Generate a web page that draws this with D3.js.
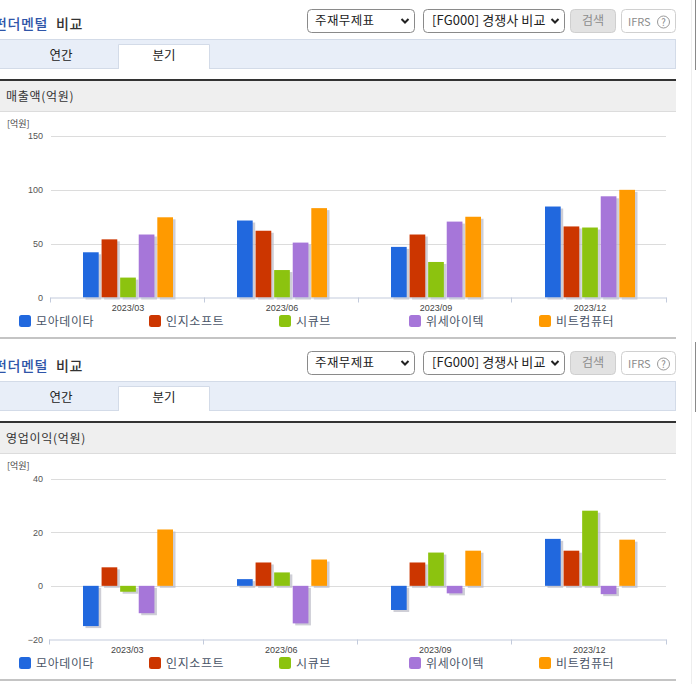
<!DOCTYPE html>
<html><head><meta charset="utf-8">
<style>html,body{margin:0;padding:0;background:#fff;overflow:hidden}svg{display:block}text{font-family:"Noto Sans CJK KR","Noto Sans",sans-serif}</style>
<script src="https://cdn.jsdelivr.net/npm/d3@7"></script></head><body>
<svg id="c" width="696" height="684"></svg>
<script>
const categories=["2023/03","2023/06","2023/09","2023/12"];
const seriesNames=["모아데이타","인지소프트","시큐브","위세아이텍","비트컴퓨터"];
const seriesColors=["#2168de","#cc3600","#8cc30f","#a676d9","#ff9a00"];
const revenue=[[42,71.5,47,84.5],[54,62,58.5,66],[18.5,25.5,33,65],[58.5,51,70.5,94],[74.5,83,75,100]];
const profit=[[-15,2.5,-9,17.5],[6.9,8.7,8.7,13.1],[-2.2,5,12.4,28],[-10.2,-14,-2.8,-3.1],[21,9.8,13.1,17.2]];
const revenueTicks=[0,50,100,150], profitTicks=[-20,0,20,40];
const svg=d3.select("#c");
function label(g,x,y,t,size,fill,anchor,sp){return g.append("text").attr("x",x).attr("y",y).attr("font-size",size).attr("fill",fill).attr("text-anchor",anchor||"start").attr("letter-spacing",sp||0).text(t);}
function box(g,x,y,w,h,r,fill,stroke){return g.append("rect").attr("x",x+.5).attr("y",y+.5).attr("width",w-1).attr("height",h-1).attr("rx",r).attr("fill",fill).attr("stroke",stroke);}
function chev(g,x,y){g.append("path").attr("d",`M${x-3.5} ${y-2}L${x} ${y+1.5}L${x+3.5} ${y-2}`).attr("fill","none").attr("stroke","#222").attr("stroke-width",2);}
function panel(offset,title,data,ticks,domain,top,bottom,tickX){
  const g=svg.append("g").attr("transform",`translate(0,${offset})`);
  const t=label(g,-6,29,"",14,"#333","start",.6);
  t.append("tspan").attr("fill","#2f55a8").attr("font-weight",500).text("펀더멘털");
  t.append("tspan").attr("x",56).attr("font-weight",500).text("비교");
  box(g,307,9,108,24,4,"#fff","#8a8a8a");label(g,315,25,"주재무제표",12.5,"#222","start",.4);chev(g,405,21);
  box(g,423,9,142,24,4,"#fff","#8a8a8a");label(g,432,25,"[FG000] 경쟁사 비교",13,"#222","start",.1);chev(g,555,21);
  box(g,570,9,46,24,4,"#e2e2e2","#cfcfcf");label(g,593,25,"검색",12,"#8c8c8c","middle");
  box(g,621,9,55,24,4,"#fff","#d0d0d0");label(g,628,25.5,"IFRS",11,"#8c8c8c");
  g.append("circle").attr("cx",663.5).attr("cy",22).attr("r",6).attr("fill","none").attr("stroke","#999");
  label(g,663.5,25.5,"?",9.5,"#888","middle");
  g.append("rect").attr("x",-1).attr("y",39.5).attr("width",676.5).attr("height",29).attr("fill","#e8eef8").attr("stroke","#d3dbe8");
  g.append("path").attr("d","M118.5 69V44.5H209.5V69").attr("fill","#fff").attr("stroke","#d3dbe8");
  label(g,61,60,"연간",12.5,"#222","middle");label(g,164,60,"분기",12.5,"#222","middle");
  g.append("rect").attr("y",79).attr("width",676).attr("height",2).attr("fill","#333");
  g.append("rect").attr("y",81).attr("width",676).attr("height",30).attr("fill","#efefef");
  g.append("rect").attr("y",111).attr("width",676).attr("height",1).attr("fill","#dcdcdc");
  label(g,6,101,title,12,"#333","start",.7);
  label(g,7,127,"[억원]",9,"#444");
  const y=d3.scaleLinear().domain(domain).range([bottom,top]);
  const x=d3.scaleBand().domain(categories).range([51,667]).padding(0);
  const s=d3.scaleBand().domain(d3.range(seriesNames.length)).range([32,122]).paddingInner(.155);
  const ya=g.append("g").attr("transform","translate(51,0)").call(d3.axisLeft(y).tickValues(ticks).tickSize(0).tickPadding(8));
  ya.select(".domain").remove();
  ya.selectAll("text").attr("font-size",9).attr("fill","#555").style("font-family","'Liberation Sans',sans-serif");
  g.append("g").selectAll("line").data(ticks.filter(v=>v!==domain[0])).join("line")
    .attr("x1",51).attr("x2",666).attr("y1",v=>Math.round(y(v))+.5).attr("y2",v=>Math.round(y(v))+.5).attr("stroke","#dcdcdc");
  const bars=g.append("g");
  data.forEach((vals,i)=>{
    const sel=bars.append("g").selectAll("g").data(vals).join("g");
    const bx=(d,j)=>x(categories[j])+s(i), by=d=>Math.min(y(0),y(d)), bh=d=>Math.abs(y(d)-y(0));
    sel.append("rect").attr("x",(d,j)=>bx(d,j)+2.5).attr("y",d=>by(d)+2).attr("width",s.bandwidth()).attr("height",bh).attr("fill","#b9b9c4").attr("opacity",.7);
    sel.append("rect").attr("x",bx).attr("y",by).attr("width",s.bandwidth()).attr("height",bh).attr("fill",seriesColors[i]);
  });
  g.append("path").attr("d",`M${tickX[0]},${bottom+.5}H666.5`).attr("fill","none").attr("stroke","#c3cbdc");
  g.append("g").selectAll("line").data(tickX).join("line")
    .attr("x1",d=>d).attr("x2",d=>d).attr("y1",bottom).attr("y2",bottom+5).attr("stroke","#c3cbdc");
  g.append("g").selectAll("text").data(categories).join("text")
    .attr("x",d=>x(d)+x.bandwidth()/2-(tickX[0]<50?.7:0)).attr("y",bottom+13.5).attr("text-anchor","middle").attr("font-size",9).attr("fill","#444").style("font-family","'Liberation Sans',sans-serif").text(d=>d);
  const lx=[19,149,279,409,539];
  seriesNames.forEach((n,i)=>{
    g.append("rect").attr("x",lx[i]).attr("y",315).attr("width",12).attr("height",12).attr("rx",2.5).attr("fill",seriesColors[i]);
    label(g,lx[i]+17,325.5,n,12,"#4a5568","start",.6);
  });
  g.append("rect").attr("y",337).attr("width",676).attr("height",2).attr("fill","#c4c4c4");
}
panel(0,"매출액(억원)",revenue,revenueTicks,[0,150],136,297.5,[50.5,204.5,358.5,511.5,666.5]);
panel(342,"영업이익(억원)",profit,profitTicks,[-20,40],136.5,297.5,[49.5,203.5,357.5,511.5,666.5]);
svg.append("rect").attr("x",691).attr("y",0).attr("width",1).attr("height",684).attr("fill","#eeeeee");
svg.append("g").selectAll("rect").data([0,342]).join("rect").attr("x",695).attr("y",d=>d).attr("width",1).attr("height",70).attr("fill","#8a8a8a");
</script></body></html>
